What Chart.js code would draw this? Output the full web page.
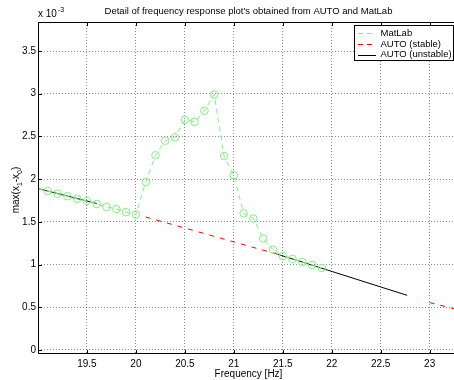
<!DOCTYPE html>
<html>
<head>
<meta charset="utf-8">
<script src="https://cdn.jsdelivr.net/npm/chart.js@4/dist/chart.umd.min.js"></script>
<style>
  html, body { margin: 0; padding: 0; background: #fff; overflow: hidden; }
  body { width: 454px; height: 380px; }
  #wrap { width: 464px; height: 380px; }
</style>
</head>
<body>
<div id="wrap"><canvas id="myChart" width="464" height="380"></canvas></div>
<script>
// MatLab 시뮬레이션 결과 (진폭 단위: x 10^-3)
const matlabFreq = [19.0, 19.1, 19.2, 19.3, 19.4, 19.5, 19.6, 19.7, 19.8, 19.9,
                    20.0, 20.1, 20.2, 20.3, 20.4, 20.5, 20.6, 20.7, 20.8, 20.9,
                    21.0, 21.1, 21.2, 21.3, 21.4, 21.5, 21.6, 21.7, 21.8, 21.9];
const matlabAmp  = [1.89, 1.86, 1.83, 1.80, 1.77, 1.745, 1.71, 1.675, 1.65, 1.615,
                    1.585, 1.966, 2.28, 2.45, 2.49, 2.695, 2.67, 2.80, 2.99, 2.27,
                    2.045, 1.60, 1.54, 1.305, 1.175, 1.10, 1.065, 1.03, 0.995, 0.96];

// AUTO 안정 분지 (두 구간)
const stableFreqA = [20.1, 21.45];
const stableAmpA  = [1.557, 1.12];
const stableFreqB = [23.0, 23.3];
const stableAmpB  = [0.555, 0.47];

// AUTO 불안정 분지 (두 구간)
const unstableFreqA = [19.0, 19.6];
const unstableAmpA  = [1.89, 1.715];
const unstableFreqB = [21.45, 22.77];
const unstableAmpB  = [1.12, 0.64];

// 눈금
const xTicks = [19.5, 20, 20.5, 21, 21.5, 22, 22.5, 23];
const yTicks = [0, 0.5, 1, 1.5, 2, 2.5, 3, 3.5];

const X_MIN = 19.0, X_MAX = 23.3;
const Y_MIN = -0.047, Y_MAX = 3.84;

const FONT = '"Liberation Sans", Arial, Helvetica, sans-serif';
const GREEN = 'rgb(128,240,128)';

function toPoints(freq, amp) {
  return freq.map((f, i) => ({ x: f, y: amp[i] }));
}

// 구간 사이에 끊김 넣기
function joinSegments(a, b) {
  return a.concat([{ x: (a[a.length - 1].x + b[0].x) / 2, y: null }], b);
}

const matlabData = toPoints(matlabFreq, matlabAmp);
const stableData = joinSegments(toPoints(stableFreqA, stableAmpA), toPoints(stableFreqB, stableAmpB));
const unstableData = joinSegments(toPoints(unstableFreqA, unstableAmpA), toPoints(unstableFreqB, unstableAmpB));

// 축 테두리, 안쪽 눈금, 제목, 축 이름, 범례
const frameLegend = {
  id: 'frameLegend',
  afterDraw(chart) {
    const ctx = chart.ctx;
    const a = chart.chartArea;
    const xs = chart.scales.x, ys = chart.scales.y;
    ctx.save();
    ctx.strokeStyle = '#000';
    ctx.lineWidth = 1;
    ctx.setLineDash([]);
    ctx.strokeRect(a.left + 0.5, a.top + 0.5, a.right - a.left - 1, a.bottom - a.top - 1);

    // 안쪽 눈금
    ctx.beginPath();
    xTicks.forEach(v => {
      const px = Math.round(xs.getPixelForValue(v)) + 0.5;
      ctx.moveTo(px, a.bottom); ctx.lineTo(px, a.bottom - 4);
      ctx.moveTo(px, a.top); ctx.lineTo(px, a.top + 4);
    });
    yTicks.forEach(v => {
      const py = Math.round(ys.getPixelForValue(v)) + 0.5;
      ctx.moveTo(a.left, py); ctx.lineTo(a.left + 4, py);
      ctx.moveTo(a.right, py); ctx.lineTo(a.right - 4, py);
    });
    ctx.stroke();

    ctx.fillStyle = '#000';
    ctx.font = '9.5px ' + FONT;
    ctx.textBaseline = 'middle';
    ctx.textAlign = 'center';
    const cx = (a.left + a.right) / 2;
    ctx.fillText("Detail of frequency response plot's obtained from AUTO and MatLab", cx, 11);
    ctx.font = '10px ' + FONT;
    ctx.fillText('Frequency [Hz]', cx, 374);

    // 지수 표시 x 10^-3
    ctx.textAlign = 'left';
    ctx.textBaseline = 'alphabetic';
    ctx.fillText('x 10', 38, 17);
    const w10 = ctx.measureText('x 10').width;
    ctx.font = '7px ' + FONT;
    ctx.fillText('-3', 38 + w10 + 1, 12);

    // y축 이름 max(x1-x0)
    ctx.save();
    ctx.translate(19, (a.top + a.bottom) / 2 + 2);
    ctx.rotate(-Math.PI / 2);
    const parts = [['max(x', 10, 0], ['1', 7, 3], ['-x', 10, 0], ['0', 7, 3], [')', 10, 0]];
    let total = 0;
    parts.forEach(p => { ctx.font = p[1] + 'px ' + FONT; total += ctx.measureText(p[0]).width; });
    let px = -total / 2;
    parts.forEach(p => {
      ctx.font = p[1] + 'px ' + FONT;
      ctx.fillText(p[0], px, p[2]);
      px += ctx.measureText(p[0]).width;
    });
    ctx.restore();

    // 범례
    const lx = 354, ly = 25, lw = 99, lh = 35;
    ctx.fillStyle = '#fff';
    ctx.fillRect(lx, ly, lw, lh);
    ctx.strokeStyle = '#000';
    ctx.strokeRect(lx + 0.5, ly + 0.5, lw, lh);
    const rows = [
      { label: 'MatLab', color: GREEN, dash: [5, 4], y: 33 },
      { label: 'AUTO (stable)', color: '#ff0000', dash: [5, 4], y: 44 },
      { label: 'AUTO (unstable)', color: '#000', dash: [], y: 54.5 }
    ];
    ctx.font = '9.5px ' + FONT;
    ctx.textBaseline = 'middle';
    rows.forEach(r => {
      ctx.strokeStyle = r.color;
      ctx.setLineDash(r.dash);
      ctx.beginPath();
      ctx.moveTo(358, Math.round(r.y) + 0.5);
      ctx.lineTo(376, Math.round(r.y) + 0.5);
      ctx.stroke();
      ctx.setLineDash([]);
      ctx.fillStyle = '#000';
      ctx.fillText(r.label, 380.5, r.y);
    });
    ctx.restore();
  }
};

window.onload = () => {
  drawResponse();
};

function drawResponse() {
  const ctx = document.getElementById('myChart').getContext('2d');
  Chart.defaults.font.family = FONT;
  Chart.defaults.font.size = 10;
  Chart.defaults.color = '#000';

  new Chart(ctx, {
    type: 'line',
    data: {
      datasets: [
        {
          label: 'MatLab',
          data: matlabData,
          borderColor: GREEN,
          borderWidth: 1,
          borderDash: [5, 4],
          backgroundColor: 'transparent',
          pointStyle: 'circle',
          pointRadius: c => (c.raw && c.raw.x <= X_MIN ? 0 : 3.8),
          pointBorderColor: GREEN,
          pointBackgroundColor: 'transparent',
          pointBorderWidth: 1,
          tension: 0
        },
        {
          label: 'AUTO (stable)',
          data: stableData,
          borderColor: '#ff0000',
          borderWidth: 1,
          borderDash: [5, 6],
          pointRadius: 0,
          spanGaps: false,
          tension: 0
        },
        {
          label: 'AUTO (unstable)',
          data: unstableData,
          borderColor: '#000',
          borderWidth: 1,
          pointRadius: 0,
          spanGaps: false,
          tension: 0
        }
      ]
    },
    options: {
      responsive: false,
      animation: false,
      events: [],
      layout: { padding: { top: 22, right: 3, left: 0, bottom: 0 } },
      plugins: {
        legend: { display: false },
        title: { display: false },
        tooltip: { enabled: false }
      },
      scales: {
        x: {
          type: 'linear',
          min: X_MIN,
          max: X_MAX,
          afterBuildTicks: s => { s.ticks = xTicks.map(v => ({ value: v })); },
          afterFit: s => { s.height = 26; },
          ticks: { padding: 4, maxRotation: 0, autoSkip: false, callback: v => String(v) },
          grid: { color: 'rgba(0,0,0,0.45)', lineWidth: 1, drawTicks: false },
          border: { display: false, dash: [1, 2] }
        },
        y: {
          type: 'linear',
          min: Y_MIN,
          max: Y_MAX,
          afterBuildTicks: s => { s.ticks = yTicks.map(v => ({ value: v })); },
          afterFit: s => { s.width = 38; },
          ticks: { padding: 2, autoSkip: false, callback: v => String(v) },
          grid: { color: 'rgba(0,0,0,0.45)', lineWidth: 1, drawTicks: false },
          border: { display: false, dash: [1, 2] }
        }
      }
    },
    plugins: [frameLegend]
  });
}
</script>
</body>
</html>
